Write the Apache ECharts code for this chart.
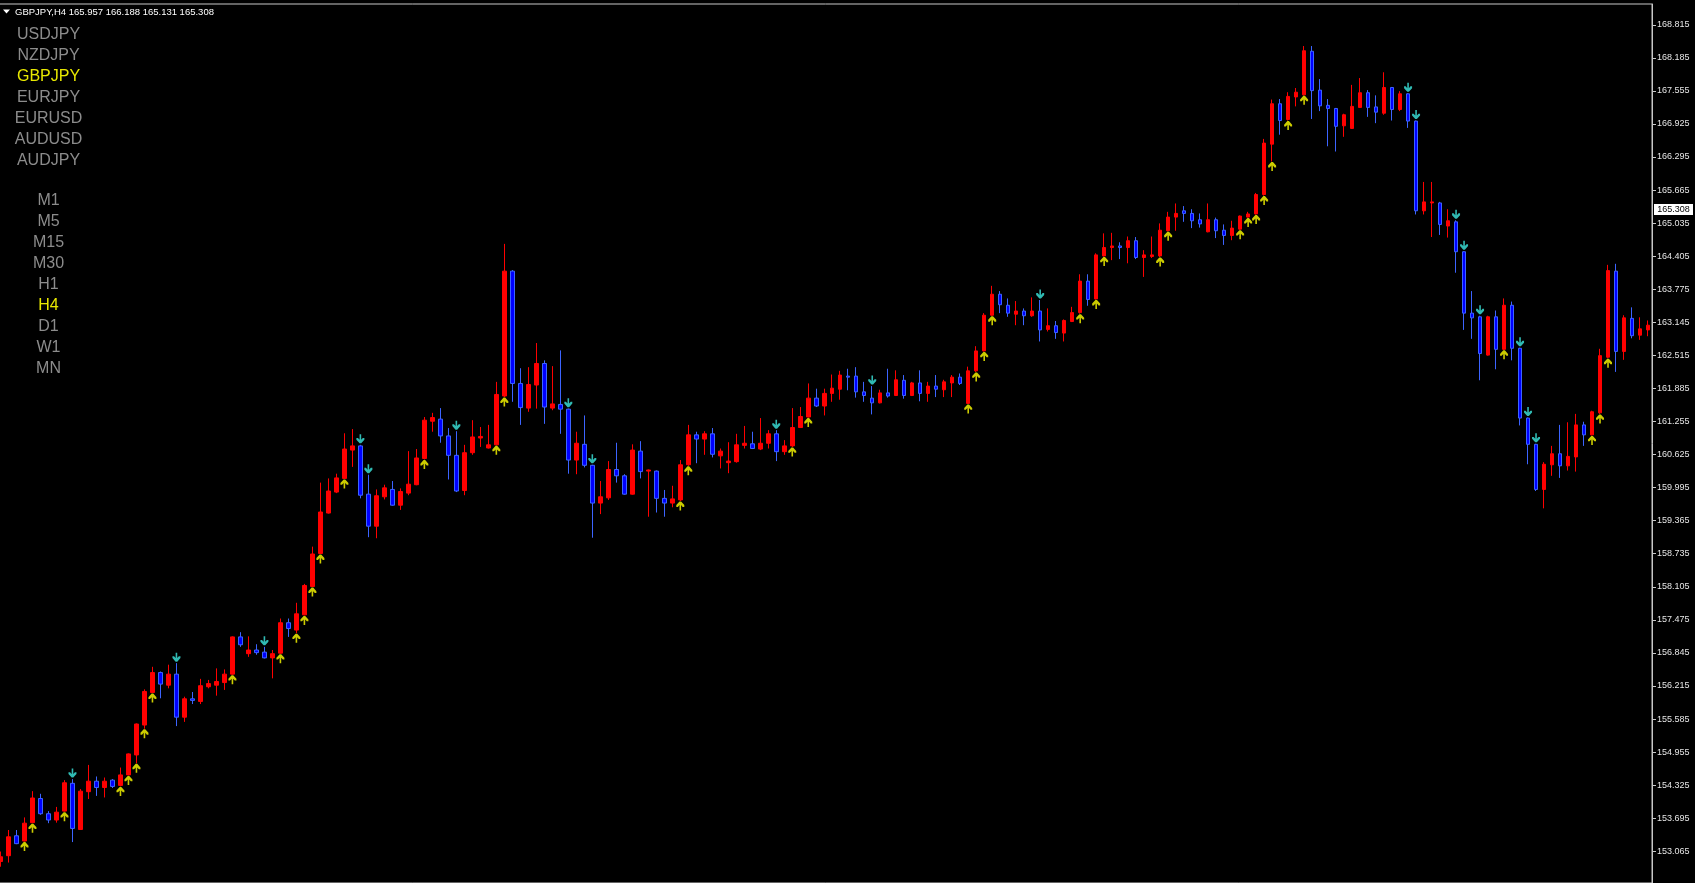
<!DOCTYPE html>
<html><head><meta charset="utf-8">
<script src="https://cdn.jsdelivr.net/npm/echarts@6/dist/echarts.min.js"></script>
<style>html,body{margin:0;padding:0;background:#000;}#c{width:1695px;height:883px;}</style>
</head><body><div id="c"></div>
<script>
const headerText = 'GBPJPY,H4 165.957 166.188 165.131 165.308';
const lastPrice = 165.308;
const symbolList = ['USDJPY','NZDJPY','GBPJPY','EURJPY','EURUSD','AUDUSD','AUDJPY'];
const activeSymbol = 'GBPJPY';
const periodList = ['M1','M5','M15','M30','H1','H4','D1','W1','MN'];
const activePeriod = 'H4';
const yTicks = [153.065,153.695,154.325,154.955,155.585,156.215,156.845,157.475,158.105,158.735,159.365,159.995,160.625,161.255,161.885,162.515,163.145,163.775,164.405,165.035,165.665,166.295,166.925,167.555,168.185,168.815];

const openP = [
152.87,152.98,153.36,153.26,153.61,154.07,153.78,153.66,153.83,154.36,
153.48,154.20,154.40,154.28,154.42,154.32,154.52,154.90,155.47,156.09,
156.47,156.23,156.44,155.62,155.97,155.92,156.20,156.23,156.28,156.44,
157.15,156.83,156.90,156.86,156.75,156.84,157.42,157.28,157.57,158.11,
158.74,159.51,159.91,160.17,160.71,160.79,159.87,159.26,159.82,159.96,
159.66,159.89,160.05,160.55,161.26,161.30,160.98,160.61,159.94,160.66,
160.94,160.75,160.81,161.74,164.12,161.98,161.51,161.95,162.36,161.51,
161.58,161.49,160.52,160.82,160.42,159.70,159.80,160.34,160.22,159.87,
160.69,160.31,160.31,159.79,159.70,159.76,160.43,161.00,160.92,161.02,
160.60,160.47,160.49,160.80,160.83,160.73,160.84,161.02,160.68,160.79,
161.14,161.34,161.70,161.55,161.79,161.87,162.12,162.12,161.82,161.70,
161.61,161.80,161.75,162.04,161.75,161.99,161.79,161.93,161.86,161.99,
162.10,161.60,162.22,162.60,163.28,163.68,163.47,163.30,163.36,163.27,
163.36,163.01,163.08,162.94,163.16,163.33,163.93,163.59,164.41,164.57,
164.60,164.57,164.70,164.38,164.40,164.41,164.89,165.15,165.27,165.22,
165.10,164.87,165.10,164.90,164.80,164.92,165.15,165.21,165.58,166.54,
167.31,167.01,167.44,167.48,168.31,167.57,167.28,167.22,166.89,166.84,
167.24,167.52,167.25,167.13,167.62,167.20,167.50,166.98,165.27,165.42,
165.42,164.98,165.06,164.49,163.32,163.25,162.52,163.25,162.63,163.47,
162.65,161.32,160.82,159.96,160.43,160.64,160.41,160.58,161.19,161.00,
161.42,162.48,164.12,162.59,163.22,162.90,163.00];

const highP = [
153.06,153.47,153.47,153.71,154.21,154.16,153.83,153.91,154.42,154.44,
154.25,154.71,154.49,154.47,154.44,154.66,154.93,155.50,156.15,156.58,
156.49,156.62,156.65,156.01,156.10,156.35,156.33,156.55,156.53,157.16,
157.24,157.16,157.01,156.96,156.90,157.50,157.50,157.80,158.16,158.87,
160.09,160.17,160.26,161.03,161.11,160.81,160.24,159.96,160.05,160.12,
159.98,160.69,160.73,161.34,161.42,161.51,161.13,161.07,160.81,161.28,
161.15,161.19,162.01,164.64,164.14,162.27,162.29,162.75,162.42,162.31,
162.61,161.50,161.06,161.37,160.43,160.12,160.50,160.85,160.25,160.82,
160.88,160.34,160.32,159.95,160.03,160.52,161.19,161.06,161.07,161.13,
160.74,160.86,161.02,161.17,161.06,161.32,161.09,161.09,160.90,161.51,
161.53,161.98,161.88,161.88,162.15,162.22,162.26,162.29,162.01,161.93,
161.86,162.26,162.23,162.14,162.01,162.23,162.01,162.14,162.05,162.14,
162.17,162.30,162.69,163.32,163.84,163.74,163.60,163.55,163.41,163.62,
163.57,163.41,163.17,163.20,163.44,164.06,164.06,164.46,164.84,164.85,
164.67,164.78,164.77,164.52,164.78,165.03,165.25,165.41,165.36,165.30,
165.22,165.41,165.14,165.01,165.08,165.18,165.25,165.61,166.64,167.39,
167.40,167.53,167.61,168.41,168.41,167.78,167.40,167.23,167.12,167.67,
167.80,167.57,167.47,167.91,167.63,167.55,167.51,166.99,165.82,165.82,
165.44,165.30,165.09,164.50,163.74,163.27,163.27,163.37,163.60,163.54,
162.66,161.33,160.83,160.48,160.79,161.19,161.24,161.40,161.25,161.46,
162.64,164.24,164.26,163.28,163.43,163.24,163.18];

const lowP = [
152.77,152.85,153.20,153.25,153.60,153.76,153.60,153.61,153.82,153.24,
153.47,154.06,154.12,154.09,154.27,154.30,154.51,154.74,155.40,156.08,
155.98,156.17,155.45,155.53,155.87,155.87,156.17,156.03,156.14,156.43,
156.96,156.77,156.81,156.74,156.36,156.83,157.15,157.22,157.56,158.10,
158.73,159.50,159.89,160.16,160.39,159.79,159.05,159.03,159.77,159.65,
159.57,159.85,160.04,160.53,161.06,160.85,160.15,159.91,159.85,160.62,
160.77,160.74,160.80,161.72,161.63,161.19,161.44,161.50,161.21,161.47,
161.02,160.26,160.25,160.38,159.04,159.49,159.76,160.09,159.86,159.86,
160.17,159.44,159.52,159.44,159.62,159.74,160.41,160.46,160.62,160.57,
160.36,160.27,160.47,160.74,160.73,160.71,160.74,160.50,160.62,160.77,
161.13,161.33,161.53,161.37,161.63,161.67,161.85,161.71,161.63,161.39,
161.60,161.71,161.74,161.69,161.74,161.64,161.63,161.72,161.72,161.72,
161.95,161.59,162.20,162.59,163.27,163.32,163.25,163.09,163.09,163.25,
162.78,162.97,162.83,162.78,163.15,163.31,163.46,163.58,164.40,164.33,
164.35,164.27,164.35,164.01,164.37,164.39,164.88,164.89,165.06,164.94,
164.95,164.86,164.75,164.62,164.71,164.91,165.14,165.20,165.56,166.21,
166.72,166.99,167.26,167.47,167.02,167.17,166.50,166.40,166.68,166.83,
167.23,167.06,166.94,167.10,166.99,167.17,166.85,165.20,165.20,164.77,
164.81,164.76,164.09,163.00,162.83,162.04,162.51,162.25,162.62,162.42,
161.18,160.44,159.93,159.60,160.22,160.18,160.32,160.30,160.79,160.99,
161.40,162.46,162.20,162.43,162.84,162.81,162.88];

const closeP = [
152.96,153.34,153.21,153.60,154.08,153.78,153.66,153.81,154.37,153.50,
154.21,154.40,154.28,154.40,154.30,154.52,154.92,155.49,156.11,156.47,
156.25,156.44,155.62,155.97,155.94,156.22,156.26,156.30,156.44,157.15,
157.00,156.90,156.85,156.75,156.83,157.42,157.31,157.59,158.13,158.73,
159.53,159.93,160.18,160.73,160.79,159.85,159.26,159.84,159.99,159.66,
159.92,160.06,160.56,161.28,161.33,160.98,160.61,159.93,160.66,160.96,
160.97,160.81,161.77,164.12,161.98,161.52,161.96,162.36,161.53,161.59,
161.49,160.52,160.84,160.42,159.70,159.82,160.34,160.22,159.87,160.71,
160.30,160.33,159.79,159.70,159.78,160.43,161.00,160.92,161.02,160.63,
160.69,160.50,160.81,160.84,160.74,160.84,161.02,160.68,160.79,161.14,
161.35,161.70,161.55,161.79,161.89,162.14,162.10,161.82,161.75,161.61,
161.80,161.74,162.05,161.75,161.99,161.79,161.93,161.87,162.01,162.10,
161.98,162.22,162.60,163.28,163.68,163.48,163.32,163.36,163.27,163.36,
163.00,163.08,162.95,163.18,163.33,163.93,163.58,164.43,164.57,164.60,
164.57,164.70,164.38,164.43,164.43,164.90,165.15,165.22,165.22,165.08,
165.02,165.10,164.89,164.80,164.94,165.17,165.21,165.58,166.56,167.31,
166.99,167.45,167.53,168.32,167.56,167.27,167.22,166.88,167.10,167.26,
167.52,167.24,167.15,167.62,167.20,167.50,166.98,165.27,165.44,165.44,
165.01,165.08,164.49,163.32,163.23,162.55,163.25,162.63,163.47,162.65,
161.32,160.82,159.96,160.44,160.64,160.41,160.59,161.19,161.00,161.44,
162.51,164.13,162.59,163.23,162.89,163.02,163.09];

// bar indices carrying the indicator arrows
const upArrows = [3,4,8,15,16,17,18,19,29,35,37,38,39,40,43,53,62,63,85,86,99,101,121,122,123,124,135,137,138,145,146,155,156,157,158,159,161,163,188,199,200,201];
const downArrows = [9,22,33,45,46,57,71,74,97,109,130,176,177,182,183,185,190,191,192];

const categories = openP.map((_, i) => 'bar ' + (i + 1));
const candleData = openP.map((o, i) => [o, closeP[i], lowP[i], highP[i]]);

const UP_PATH = 'path://M4,0 L6,0 L10,4 L10,6 L8,6 L6,4 L6,10 L4,10 L4,4 L2,6 L0,6 L0,4 Z';
const DOWN_PATH = 'path://M4,10 L6,10 L10,6 L10,4 L8,4 L6,6 L6,0 L4,0 L4,6 L2,4 L0,4 L0,6 Z';
const FONT = '"Liberation Sans", Arial, sans-serif';

const graphics = [];
graphics.push({type:'polygon', silent:true, shape:{points:[[3,9.5],[10,9.5],[6.5,13.5]]}, style:{fill:'#ffffff'}});
graphics.push({type:'text', silent:true, style:{text: headerText, x:15, y:12, fill:'#ffffff', font:'9.5px ' + FONT, textVerticalAlign:'middle', textAlign:'left'}});
symbolList.forEach((s, k) => {
  graphics.push({type:'text', silent:true, style:{text:s, x:48.5, y:34.5 + k*21.08, fill: s === activeSymbol ? '#e8e800' : '#8c8c8c', font:'16px ' + FONT, textAlign:'center', textVerticalAlign:'middle'}});
});
periodList.forEach((s, k) => {
  graphics.push({type:'text', silent:true, style:{text:s, x:48.5, y:201 + k*21.0, fill: s === activePeriod ? '#e8e800' : '#8c8c8c', font:'16px ' + FONT, textAlign:'center', textVerticalAlign:'middle'}});
});

const chart = echarts.init(document.getElementById('c'), null, {renderer:'canvas'});
chart.setOption({
  backgroundColor:'#000000',
  animation:false,
  grid:{left:-3.5, right:43, top:4, bottom:0, outerBoundsMode:'none', containLabel:false, show:true, borderColor:'#c8c8c8', borderWidth:1, backgroundColor:'#000000'},
  xAxis:{type:'category', data:categories, boundaryGap:true, show:false},
  yAxis:{
    type:'value', position:'right', min:152.46, max:169.211, scale:true,
    splitLine:{show:false},
    axisLine:{show:true, lineStyle:{color:'#c8c8c8', width:1}},
    axisTick:{show:true, length:4, lineStyle:{color:'#c8c8c8'}, customValues: yTicks},
    axisLabel:{show:true, customValues: yTicks, formatter: v => Number(v).toFixed(3), color:'#e6e6e6', fontSize:9, fontFamily:FONT, margin:5}
  },
  graphic: graphics,
  series:[
    {
      type:'candlestick', data:candleData, barWidth:4,
      itemStyle:{color:'#ff0000', color0:'#0000ff', borderColor:'#ff0000', borderColor0:'#3c64ff', borderWidth:1}
    },
    {
      type:'scatter', data: upArrows.map(i => [i, lowP[i]]), symbol: UP_PATH, symbolSize:[8,9], symbolOffset:[0,5],
      itemStyle:{color:'#ffff00'}, silent:true, z:5
    },
    {
      type:'scatter', data: downArrows.map(i => [i, highP[i]]), symbol: DOWN_PATH, symbolSize:[8,9], symbolOffset:[0,-6],
      itemStyle:{color:'#3ce8e0'}, silent:true, z:5
    }
  ]
});

// current price tag on the price scale, placed through the axis scale
const yPx = chart.convertToPixel({yAxisIndex:0}, lastPrice);
graphics.push({type:'rect', silent:true, z:100, shape:{x:1654, y:Math.round(yPx) - 5, width:39, height:11}, style:{fill:'#ffffff'}});
graphics.push({type:'text', silent:true, z:101, style:{text:lastPrice.toFixed(3), x:1673.5, y:Math.round(yPx) + 0.5, fill:'#000000', font:'9px ' + FONT, textAlign:'center', textVerticalAlign:'middle'}});
chart.setOption({graphic: graphics});
</script>
</body></html>
